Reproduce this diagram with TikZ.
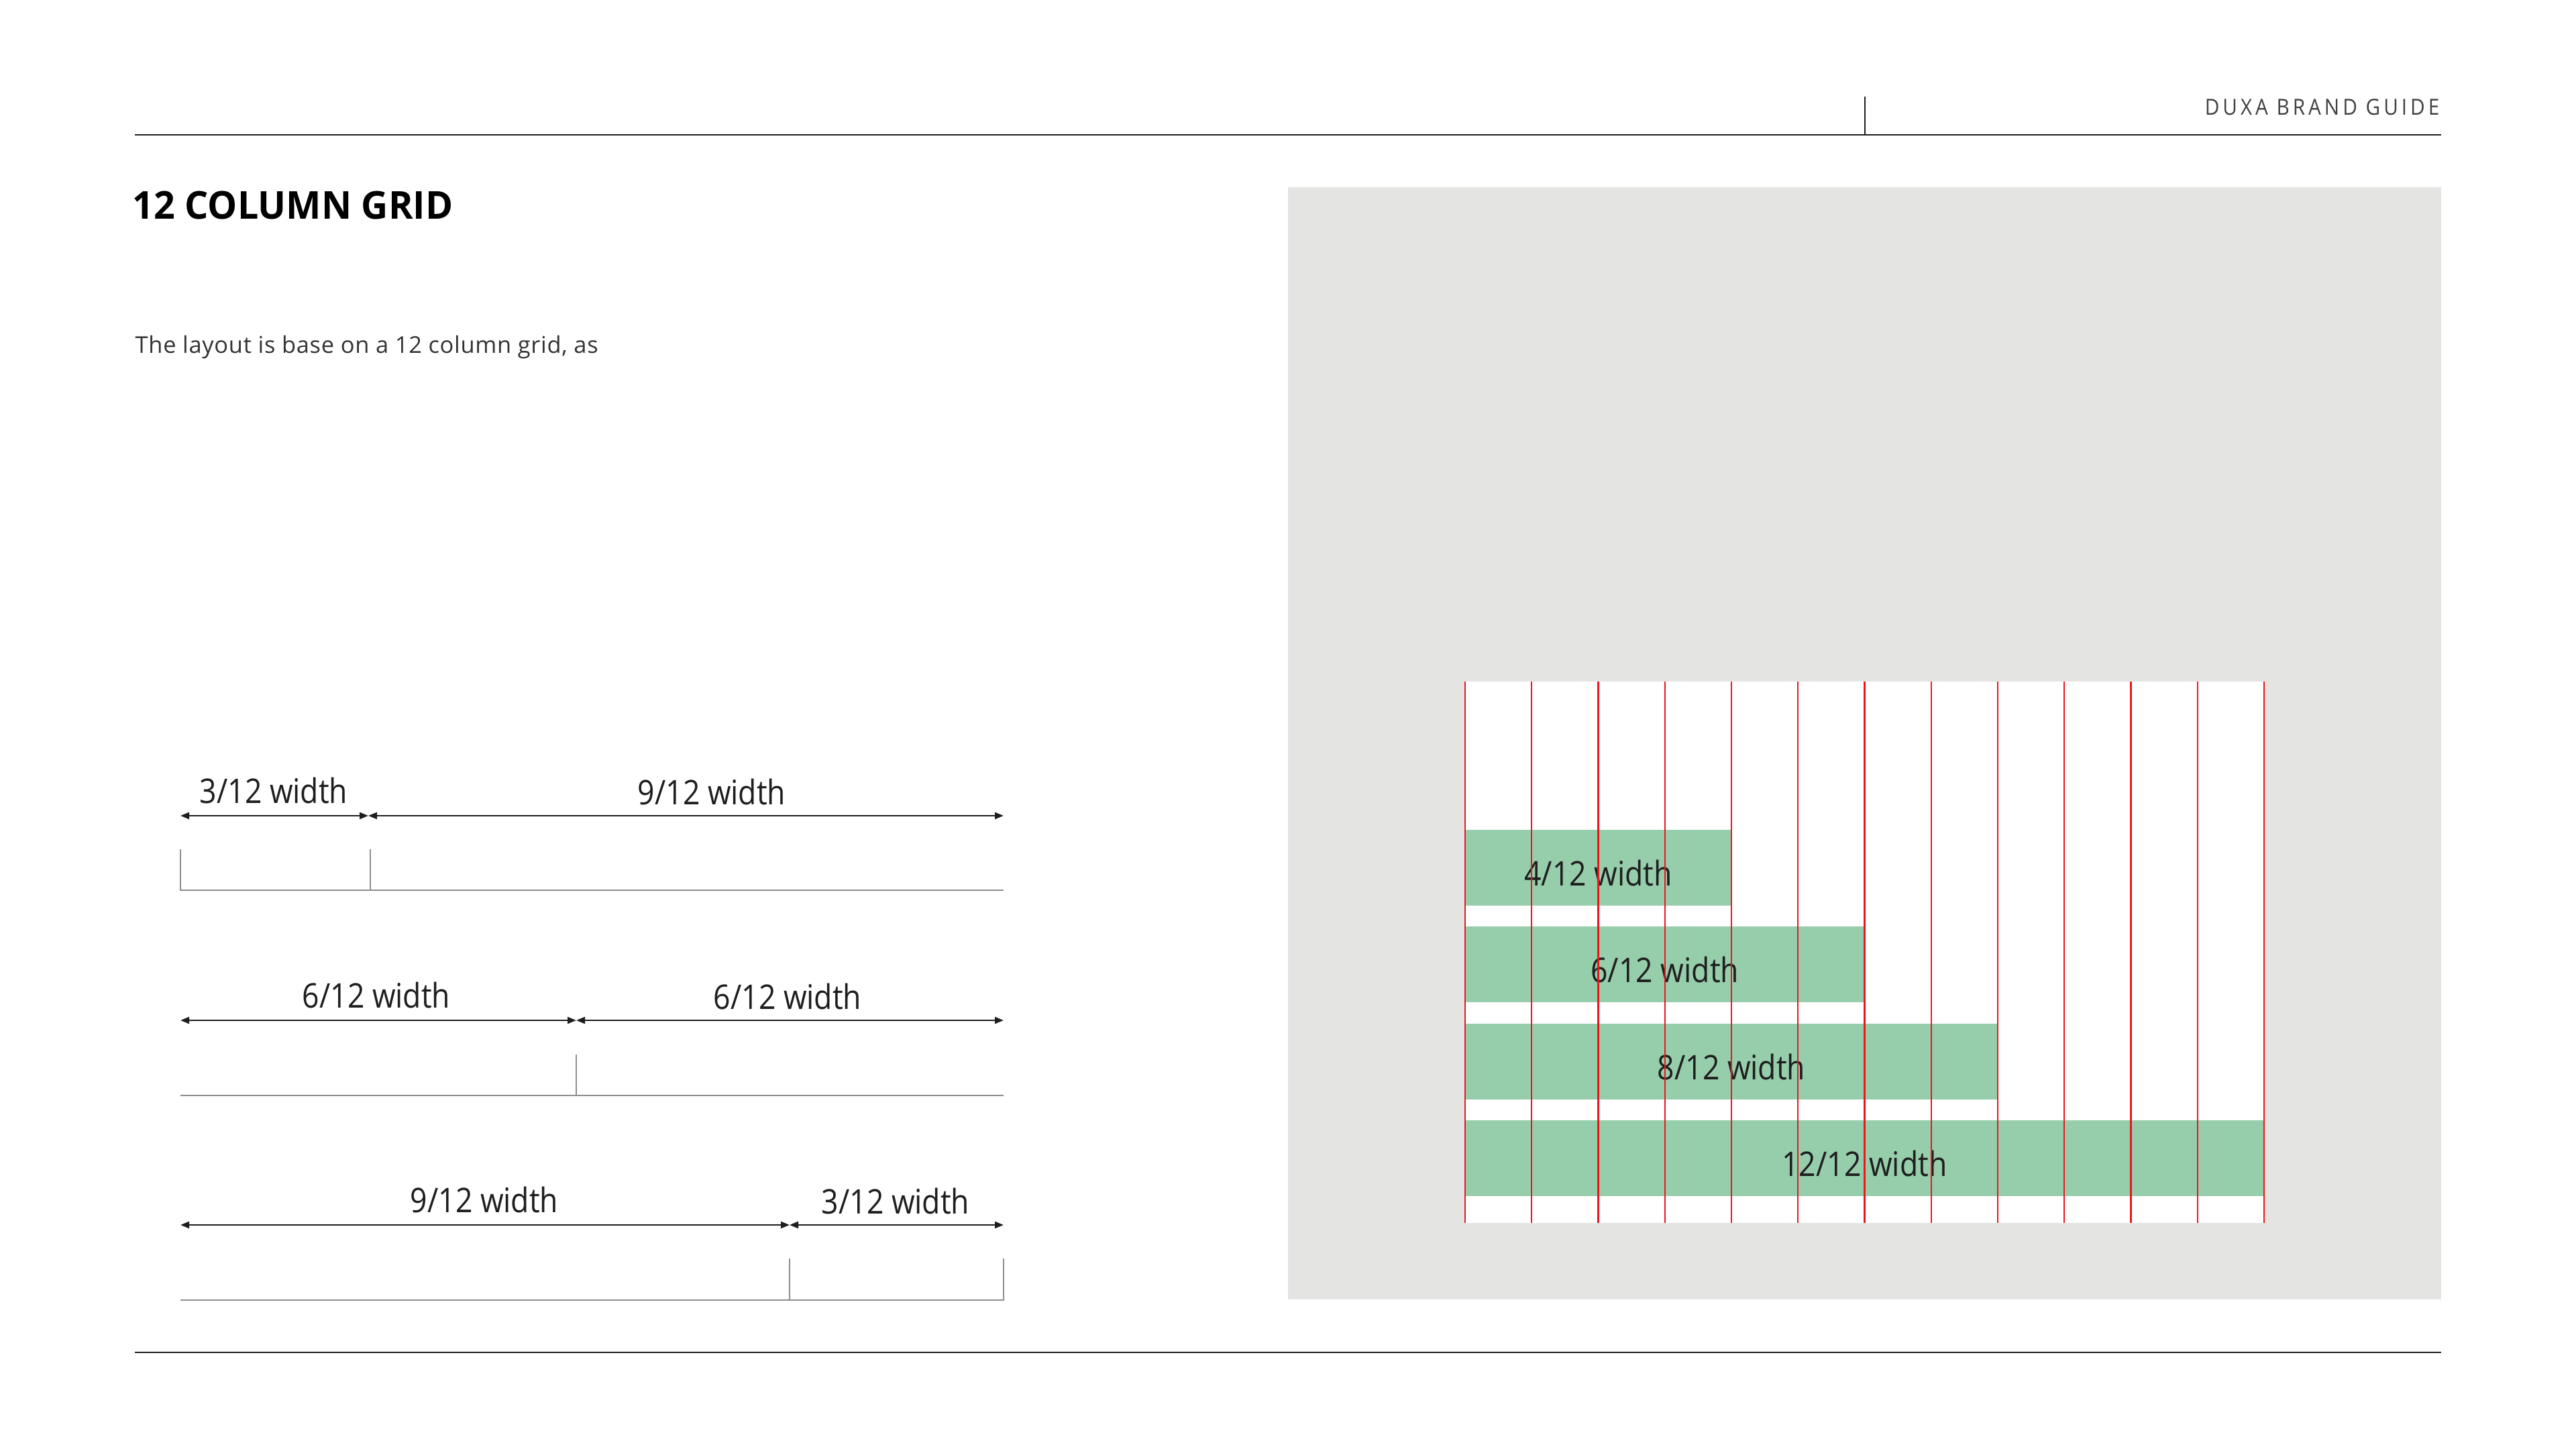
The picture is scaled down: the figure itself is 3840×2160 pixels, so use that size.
\documentclass[tikz,border=0pt]{standalone}
\usepackage{fontspec}
\setmainfont{Open Sans}[FakeStretch=0.88]
\newfontfamily\titlefont{Open Sans}[FakeStretch=0.97]
\newfontfamily\bodyfont{Open Sans}[LetterSpace=2]
\newfontfamily\brandfont{Open Sans}[FakeStretch=0.9,LetterSpace=15]
\usetikzlibrary{arrows.meta,positioning,calc}
\definecolor{panelgray}{HTML}{E4E4E2}
\definecolor{colgreen}{HTML}{96CDAB}
\definecolor{gridred}{HTML}{F0141E}
\definecolor{bracketgray}{HTML}{8E8E8E}
\definecolor{inkdark}{HTML}{1E1E1E}

\begin{document}
\begin{tikzpicture}[
  x=0.1mm, y=-0.1mm,
  pagerule/.style={draw=inkdark, line width=0.7pt},
  dimarrow/.style={{Triangle[length=1.3mm,width=1mm]}-{Triangle[length=1.3mm,width=1mm]},
                   draw=inkdark, line width=0.65pt},
  bracket/.style={draw=bracketgray, line width=0.5pt},
  widthlabel/.style={font=\fontsize{14.4}{17}\selectfont, text=inkdark, anchor=base, inner sep=0pt},
  colbar/.style={fill=colgreen},
  colline/.style={draw=gridred, line width=0.6pt},
]
  \useasboundingbox (0,0) rectangle (3840,2160);
  \fill[white] (0,0) rectangle (3840,2160);

  % header and footer rules
  \coordinate (topL) at (201,201);
  \coordinate (topR) at (3639,201);
  \coordinate (tickT) at (2780,144);
  \coordinate (tickB) at (2780,201);
  \coordinate (botL) at (201,2016);
  \coordinate (botR) at (3639,2016);
  \draw[pagerule] (topL) -- (topR);
  \draw[draw=inkdark, line width=0.5pt] (tickT) -- (tickB);
  \draw[pagerule] (botL) -- (botR);
  \node[anchor=base east, inner sep=0pt, text=black!75,
        font=\brandfont\fontsize{9.4}{11}\selectfont] (brand) at (3637,171) {DUXA BRAND GUIDE};

  \node[anchor=base west, inner sep=0pt, text=black,
        font=\titlefont\bfseries\fontsize{16.3}{19}\selectfont] (title) at (197,326) {12 COLUMN GRID};
  \node[anchor=base west, inner sep=0pt, text=black!80,
        font=\bodyfont\fontsize{9.8}{11}\selectfont] (intro) at (201,526) {The layout is base on a 12 column grid, as};

  % row 1: 3/12 + 9/12
  \coordinate (r1s) at (269,1216);
  \coordinate (r1m) at (549,1216);
  \coordinate (r1e) at (1496,1216);
  \draw[dimarrow] (r1s) -- (r1m);
  \draw[dimarrow] (r1m) -- (r1e);
  \node[widthlabel] (r1a) at (408,1197) {3/12 width};
  \node[widthlabel] (r1b) at (1061,1199) {9/12 width};
  \draw[bracket] (269,1266) -- (269,1327) -- (1496,1327);
  \draw[bracket] (552,1266) -- (552,1327);

  % row 2: 6/12 + 6/12
  \coordinate (r2s) at (269,1521);
  \coordinate (r2m) at (859,1521);
  \coordinate (r2e) at (1496,1521);
  \draw[dimarrow] (r2s) -- (r2m);
  \draw[dimarrow] (r2m) -- (r2e);
  \node[widthlabel] (r2a) at (561,1502) {6/12 width};
  \node[widthlabel] (r2b) at (1174,1504) {6/12 width};
  \draw[bracket] (269,1633) -- (1496,1633);
  \draw[bracket] (859,1572) -- (859,1633);

  % row 3: 9/12 + 3/12
  \coordinate (r3s) at (269,1826);
  \coordinate (r3m) at (1177,1826);
  \coordinate (r3e) at (1496,1826);
  \draw[dimarrow] (r3s) -- (r3m);
  \draw[dimarrow] (r3m) -- (r3e);
  \node[widthlabel] (r3a) at (722,1807) {9/12 width};
  \node[widthlabel] (r3b) at (1335,1809) {3/12 width};
  \draw[bracket] (269,1938) -- (1496,1938);
  \draw[bracket] (1177,1876) -- (1177,1938) -- (1496,1938) -- (1496,1876);

  % grid panel
  \fill[panelgray] (1920,279) rectangle (3639,1937);
  \fill[white] (2184,1016) rectangle (3375,1823);
  \foreach \n/\top in {4/1237, 6/1381, 8/1526, 12/1670} {
    \fill[colbar] (2184,\top) rectangle ({2184+\n*99.25},{\top+113});
    \node[widthlabel] (bar\n) at ({2184+\n*49.625},{\top+83}) {\n/12 width};
  }
  \foreach \i in {0,...,12}
    \draw[colline] ({2184+\i*99.25},1016) -- ({2184+\i*99.25},1823);
\end{tikzpicture}
\end{document}
